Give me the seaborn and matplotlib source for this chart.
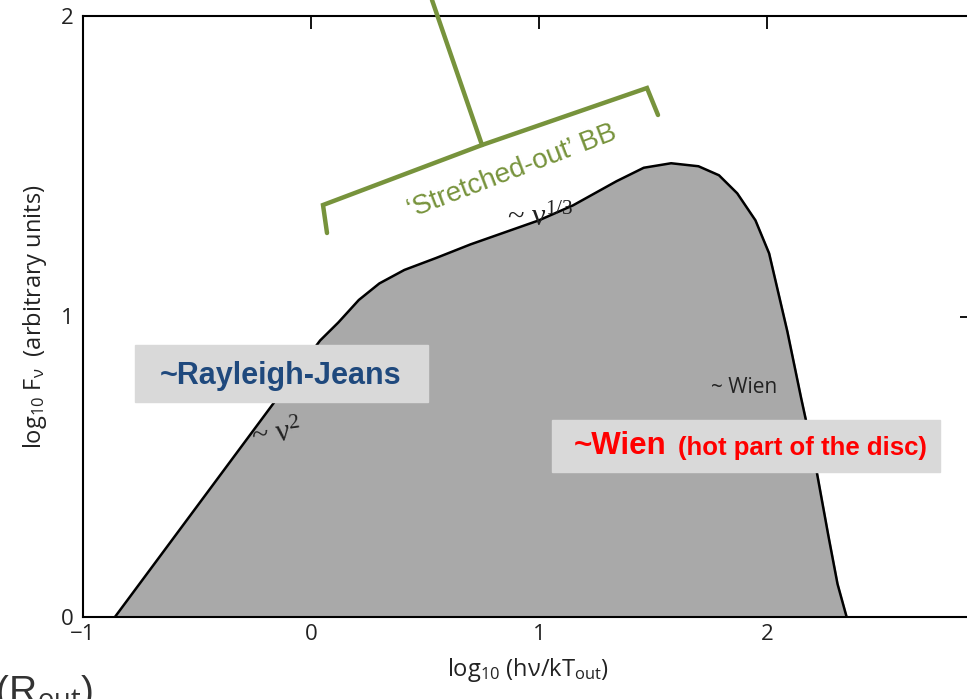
import numpy as np
import pandas as pd
import matplotlib
matplotlib.use("Agg")
import matplotlib.pyplot as plt
import seaborn as sns
from matplotlib.patches import Rectangle

# disc spectrum outline (log10 h nu/kT_out, log10 F_nu)
x_vals = [-0.86, 0.04, 0.12, 0.21, 0.30, 0.41, 0.55, 0.70, 0.85, 1.00,
          1.15, 1.34, 1.46, 1.58, 1.70, 1.79, 1.87, 1.95, 2.01, 2.09,
          2.15, 2.21, 2.27, 2.31, 2.35]
y_vals = [0.00, 0.92, 0.98, 1.055, 1.11, 1.155, 1.195, 1.24, 1.28, 1.32,
          1.37, 1.45, 1.495, 1.51, 1.50, 1.47, 1.41, 1.32, 1.21, 0.95,
          0.73, 0.52, 0.27, 0.11, 0.00]
x_ticks = [-1, 0, 1, 2]
y_ticks = [0, 1, 2]

df = pd.DataFrame({"x": x_vals, "y": y_vals})

sns.set_theme(style="white")
plt.rcParams['font.family'] = ['Open Sans', 'DejaVu Sans']
plt.rcParams['mathtext.fontset'] = 'custom'
plt.rcParams['mathtext.rm'] = 'Liberation Serif'
plt.rcParams['mathtext.it'] = 'Liberation Serif:italic'
plt.rcParams['mathtext.sf'] = 'Open Sans'

W, H = 967, 699
fig = plt.figure(figsize=(W / 100, H / 100), dpi=100)

def px(x, y):
    return (x / W, 1 - y / H)

ax = fig.add_axes([83 / W, 1 - 617 / H, (972 - 83) / W, (617 - 16) / H])

ax.fill_between(df["x"], 0, df["y"], color="#a9a9a9", zorder=1)
sns.lineplot(data=df, x="x", y="y", sort=False, color="black", lw=1.8, ax=ax, zorder=2)

ax.set_xlim(-1, 2.9)
ax.set_ylim(0, 2.0)
ax.set_xticks(x_ticks)
ax.set_yticks(y_ticks)
ax.set_xticklabels(["\u22121", "0", "1", "2"])
ax.tick_params(direction="in", length=9, width=1.3, colors="black",
               labelcolor="#222222", labelsize=16, top=True, right=True, pad=5)
ax.tick_params(axis="y", pad=7)
for s in ax.spines.values():
    s.set_color("black")
    s.set_linewidth(1.5)

ax.set_xlabel(r"log$_{\mathsf{10}}$ (h" + "\u03bd" + r"/kT$_{\mathsf{out}}$)", fontsize=17,
              color="#222222", labelpad=8)
ax.set_ylabel(r"log$_{\mathsf{10}}$ F$_{\mathsf{\nu}}$  (arbitrary units)", fontsize=17,
              color="#222222", labelpad=8)

# small textbook labels
ax.text(0.86, 1.30, r"~ $\mathrm{\nu}^{\mathrm{1/3}}$", fontsize=22,
        family="Liberation Serif", color="#222222")
ax.text(-0.27, 0.57, r"~ $\mathrm{\nu}^{\mathrm{2}}$", fontsize=22,
        family="Liberation Serif", color="#222222", rotation=8)
ax.text(1.755, 0.745, "~ Wien", fontsize=15, color="#222222")

# overlay annotations
green = "#77933C"
stem = [px(432, 0), px(482, 145)]
bracket = [px(327, 233), px(323, 205), px(482, 145), px(647, 88), px(658, 115)]
for pts in (stem, bracket):
    xs, ys = zip(*pts)
    fig.add_artist(plt.Line2D(xs, ys, transform=fig.transFigure, color=green, lw=3.2,
                              solid_joinstyle="miter"))
fig.text(*px(512, 172), "\u2018Stretched-out\u2019 BB", color=green, fontsize=20,
         rotation=21, ha="center", va="center", family=["Liberation Sans", "DejaVu Sans"])

fig.add_artist(Rectangle(px(135, 402), 293 / W, 57 / H, transform=fig.transFigure,
                         color="#d9d9d9", zorder=5))
fig.text(*px(281, 376), "~Rayleigh-Jeans", color="#1F497D", fontsize=22, weight="bold",
         ha="center", va="center", family=["Liberation Sans", "DejaVu Sans"], zorder=6)

fig.add_artist(Rectangle(px(552, 472), 388 / W, 52 / H, transform=fig.transFigure,
                         color="#d9d9d9", zorder=5))
fig.text(*px(574, 446), "~Wien", color="#ff0000", fontsize=22.5, weight="bold",
         ha="left", va="center", family=["Liberation Sans", "DejaVu Sans"], zorder=6)
fig.text(*px(678, 448), "(hot part of the disc)", color="#ff0000", fontsize=18.5, weight="bold",
         ha="left", va="center", family=["Liberation Sans", "DejaVu Sans"], zorder=6)

fig.text(*px(93, 703), r"T(R$_{\mathsf{out}}$)", color="#333333", fontsize=28,
         ha="right", va="baseline", family=["Liberation Sans", "DejaVu Sans"])

fig.savefig("out.png", dpi=100)
